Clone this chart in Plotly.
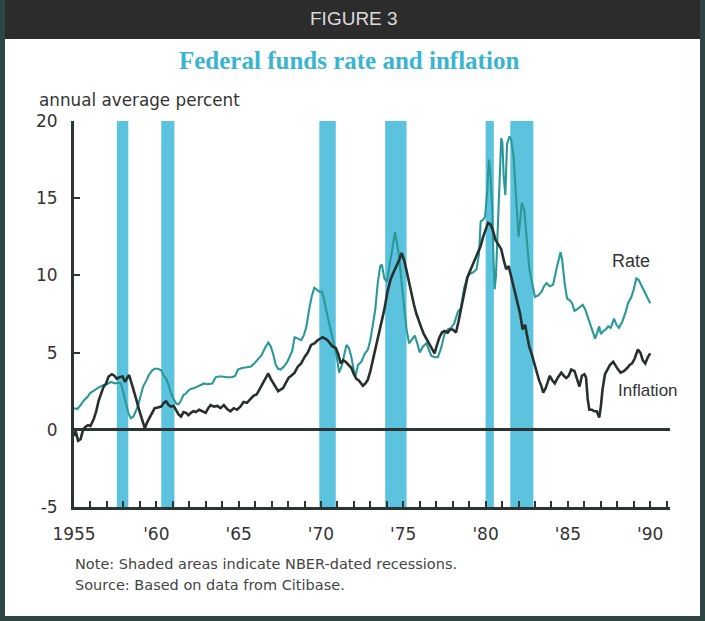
import plotly.graph_objects as go

# ---------------- data ----------------
rate_years = [1955.0,1955.2,1955.4,1955.6,1955.8,1956.0,1956.3,1956.5,1956.8,1957.0,1957.25,1957.5,1957.7,1957.85,
 1958.0,1958.15,1958.3,1958.45,1958.6,1958.75,1958.9,1959.05,1959.2,1959.4,1959.55,1959.75,1959.9,1960.1,1960.3,
 1960.45,1960.6,1960.75,1960.9,1961.05,1961.2,1961.35,1961.5,1961.65,1961.8,1961.95,1962.1,1962.3,1962.5,1962.7,
 1962.9,1963.1,1963.4,1963.6,1963.8,1964.0,1964.3,1964.6,1964.8,1964.95,1965.2,1965.5,1965.75,1966.0,1966.2,1966.4,
 1966.6,1966.8,1966.95,1967.1,1967.25,1967.4,1967.55,1967.75,1967.95,1968.1,1968.25,1968.4,1968.6,1968.8,1968.95,
 1969.1,1969.3,1969.45,1969.6,1969.75,1969.9,1970.05,1970.2,1970.35,1970.5,1970.65,1970.8,1970.95,1971.1,1971.25,
 1971.4,1971.55,1971.7,1971.85,1972.0,1972.1,1972.25,1972.45,1972.65,1972.85,1973.0,1973.15,1973.3,1973.45,1973.6,
 1973.7,1973.85,1974.0,1974.15,1974.3,1974.5,1974.6,1974.75,1974.9,1975.05,1975.2,1975.35,1975.5,1975.7,1975.85,
 1976.0,1976.2,1976.4,1976.55,1976.7,1976.9,1977.1,1977.3,1977.5,1977.7,1977.9,1978.1,1978.3,1978.5,1978.7,1978.9,
 1979.05,1979.25,1979.45,1979.6,1979.7,1979.85,1979.97,1980.1,1980.2,1980.3,1980.4,1980.48,1980.55,1980.63,1980.7,
 1980.78,1980.85,1980.95,1981.02,1981.1,1981.2,1981.3,1981.45,1981.55,1981.7,1981.8,1981.9,1982.0,1982.1,1982.2,
 1982.35,1982.45,1982.55,1982.65,1982.75,1982.9,1983.0,1983.2,1983.4,1983.55,1983.7,1983.9,1984.1,1984.3,1984.45,
 1984.55,1984.65,1984.8,1984.95,1985.1,1985.25,1985.4,1985.55,1985.75,1985.9,1986.05,1986.2,1986.35,1986.5,1986.65,
 1986.75,1986.9,1987.0,1987.15,1987.3,1987.45,1987.6,1987.8,1987.95,1988.1,1988.3,1988.5,1988.65,1988.85,1989.0,
 1989.15,1989.3,1989.45,1989.6,1989.8,1990.0]
rate_values = [1.4,1.35,1.6,1.9,2.1,2.4,2.6,2.75,2.9,2.95,3.1,3.0,3.05,3.0,
 2.4,1.7,1.1,0.75,0.85,1.2,1.6,2.2,2.8,3.2,3.55,3.85,3.95,3.95,3.85,
 3.5,3.3,2.9,2.35,2.0,1.7,1.65,1.9,2.25,2.35,2.55,2.65,2.7,2.8,2.85,
 3.0,2.95,3.0,3.4,3.45,3.45,3.4,3.4,3.5,3.9,4.0,4.05,4.1,4.35,4.6,4.85,
 5.3,5.65,5.4,4.9,4.2,3.95,3.9,4.1,4.4,4.7,5.1,6.0,5.9,5.8,6.1,
 6.6,7.9,8.7,9.2,9.1,8.95,8.95,8.4,7.6,6.9,6.3,5.5,4.8,3.7,4.1,
 4.8,5.5,5.3,4.7,3.8,3.5,4.2,4.4,4.9,5.2,5.8,6.7,7.8,9.5,10.6,
 10.7,9.8,9.6,10.5,11.5,12.8,12.2,11.2,9.5,8.0,6.5,5.6,5.8,6.1,5.6,
 5.0,5.4,5.6,5.2,4.8,4.7,4.7,5.3,6.2,6.5,6.6,6.9,7.6,7.9,9.2,9.9,
 10.1,10.2,10.4,11.4,13.5,13.6,13.8,15.5,17.5,16.5,14.4,11.0,9.1,10.0,12.1,
 14.0,16.4,18.9,18.6,16.4,15.2,18.5,19.0,18.8,17.7,15.5,14.2,12.5,13.6,14.7,
 14.2,13.0,11.7,10.5,9.9,9.0,8.6,8.7,8.95,9.3,9.5,9.3,9.4,10.4,11.0,
 11.5,11.0,9.5,8.5,8.4,8.2,7.7,7.8,8.0,8.1,7.8,7.3,6.9,6.4,5.9,
 6.2,6.7,6.2,6.4,6.5,6.7,6.6,7.2,6.8,6.6,7.0,7.6,8.2,8.6,9.1,
 9.8,9.7,9.4,9.05,8.6,8.2]

infl_years = [1955.0,1955.1,1955.25,1955.4,1955.55,1955.7,1955.85,1956.0,1956.2,1956.35,1956.5,1956.65,1956.8,1956.95,
 1957.1,1957.3,1957.45,1957.6,1957.75,1957.95,1958.1,1958.25,1958.35,1958.5,1958.65,1958.8,1958.95,1959.1,1959.3,
 1959.45,1959.6,1959.75,1959.9,1960.1,1960.3,1960.45,1960.6,1960.75,1960.9,1961.05,1961.2,1961.35,1961.5,1961.65,
 1961.8,1961.95,1962.1,1962.25,1962.4,1962.6,1962.8,1963.0,1963.15,1963.3,1963.5,1963.7,1963.9,1964.1,1964.3,1964.5,
 1964.7,1964.9,1965.1,1965.3,1965.5,1965.7,1965.9,1966.1,1966.3,1966.5,1966.7,1966.8,1966.95,1967.1,1967.25,1967.4,
 1967.55,1967.7,1967.85,1968.05,1968.2,1968.4,1968.6,1968.8,1969.0,1969.2,1969.4,1969.6,1969.8,1970.0,1970.1,
 1970.25,1970.4,1970.55,1970.7,1970.9,1971.05,1971.2,1971.35,1971.5,1971.7,1971.85,1972.0,1972.15,1972.3,1972.45,
 1972.55,1972.7,1972.85,1973.0,1973.15,1973.35,1973.5,1973.65,1973.85,1974.05,1974.25,1974.45,1974.6,1974.75,1974.9,
 1975.05,1975.2,1975.35,1975.5,1975.65,1975.8,1975.95,1976.1,1976.25,1976.4,1976.6,1976.75,1976.9,1977.05,1977.2,
 1977.35,1977.5,1977.7,1977.85,1978.0,1978.2,1978.35,1978.5,1978.7,1978.9,1979.1,1979.3,1979.5,1979.7,1979.85,
 1980.0,1980.15,1980.3,1980.45,1980.6,1980.75,1980.95,1981.1,1981.25,1981.4,1981.55,1981.7,1981.85,1982.0,1982.1,
 1982.25,1982.4,1982.5,1982.65,1982.8,1982.95,1983.1,1983.25,1983.4,1983.5,1983.65,1983.8,1983.9,1984.05,1984.2,
 1984.4,1984.6,1984.75,1984.9,1985.05,1985.2,1985.4,1985.55,1985.7,1985.85,1986.0,1986.1,1986.2,1986.3,1986.45,
 1986.6,1986.75,1986.9,1987.0,1987.1,1987.25,1987.4,1987.55,1987.75,1987.9,1988.05,1988.2,1988.4,1988.6,1988.75,
 1988.9,1989.05,1989.25,1989.4,1989.55,1989.7,1989.85,1990.0]
infl_values = [-0.4,-0.1,-0.7,-0.6,0.0,0.2,0.3,0.25,0.7,1.2,1.9,2.3,2.8,3.0,
 3.45,3.6,3.5,3.3,3.4,3.45,3.1,3.4,3.55,3.0,2.5,1.9,1.3,0.8,0.1,
 0.5,0.8,1.2,1.4,1.45,1.5,1.75,1.85,1.6,1.5,1.55,1.3,1.0,0.85,1.15,
 1.1,0.95,1.1,1.2,1.15,1.3,1.2,1.1,1.4,1.6,1.5,1.55,1.4,1.6,1.35,1.2,
 1.4,1.3,1.5,1.8,1.75,2.0,2.2,2.3,2.7,3.0,3.5,3.65,3.3,3.0,2.7,2.5,
 2.6,2.7,3.0,3.4,3.5,3.7,4.1,4.3,4.7,5.0,5.5,5.6,5.8,5.9,6.0,
 5.9,5.8,5.6,5.4,5.3,4.9,4.3,4.5,4.4,4.2,4.0,3.6,3.3,3.2,3.0,
 2.85,3.0,3.25,3.8,4.5,5.4,6.1,6.7,7.8,9.0,9.8,10.3,10.6,11.0,11.45,
 11.0,10.3,9.5,8.8,8.1,7.5,7.0,6.6,6.2,5.9,5.6,5.3,4.95,5.5,6.0,
 6.3,6.4,6.3,6.5,6.5,6.3,7.0,7.8,8.8,9.9,10.4,10.9,11.3,11.9,12.5,
 13.0,13.4,13.3,12.9,12.3,12.0,11.7,11.0,10.4,10.6,9.9,9.3,8.6,8.0,7.5,
 6.5,6.8,6.2,5.4,4.9,4.3,3.7,3.2,2.8,2.4,2.7,3.2,3.5,3.2,3.0,
 3.4,3.7,3.5,3.35,3.5,3.9,3.8,3.3,2.8,3.5,3.6,3.4,2.0,1.3,1.3,
 1.2,1.2,0.8,1.5,2.6,3.6,3.9,4.2,4.4,4.1,3.9,3.7,3.8,4.0,4.2,
 4.3,4.6,5.2,5.0,4.5,4.3,4.7,4.95]

rec_start = [1957.6, 1960.3, 1969.9, 1973.9, 1980.0, 1981.5]
rec_end = [1958.3, 1961.1, 1970.9, 1975.2, 1980.5, 1982.9]

x_tickvals = [1955, 1960, 1965, 1970, 1975, 1980, 1985, 1990]
x_ticktext = ["1955", "'60", "'65", "'70", "'75", "'80", "'85", "'90"]
y_tickvals = [-5, 0, 5, 10, 15, 20]
y_ticktext = ["-5", "0", "5", "10", "15", "20"]

# ---------------- layout helpers ----------------
W, H = 705, 621
L, R, T, B = 74, 35, 121, 114
PW, PH = W - L - R, H - T - B

def px(x):
    return (x - L) / PW

def py(y):
    return (H - B - y) / PH

DARK = "#2b3533"
RATE_C = "#2a9898"
INFL_C = "#28302e"
BAR_C = "#5cc3de"
TXT = "#333333"

fig = go.Figure()
fig.add_trace(go.Scatter(x=rate_years, y=rate_values, mode="lines",
                         line=dict(color=RATE_C, width=2.1), showlegend=False, hoverinfo="skip"))
fig.add_trace(go.Scatter(x=infl_years, y=infl_values, mode="lines",
                         line=dict(color=INFL_C, width=2.6), showlegend=False, hoverinfo="skip"))

shapes = []
for s, e in zip(rec_start, rec_end):
    shapes.append(dict(type="rect", xref="x", yref="y", x0=s, x1=e, y0=-5, y1=20,
                       fillcolor=BAR_C, line=dict(width=0), layer="below"))
# header band and frame
shapes.append(dict(type="rect", xref="paper", yref="paper", x0=px(0), x1=px(W), y0=py(0), y1=py(39),
                   fillcolor="#2c2c2c", line=dict(width=0), layer="above"))
FRAME = "#2f4543"
for (a, b, c, d) in [(0, 5, 0, H), (700, W, 0, H), (0, W, 616, H)]:
    shapes.append(dict(type="rect", xref="paper", yref="paper", x0=px(a), x1=px(b), y0=py(c), y1=py(d),
                       fillcolor=FRAME, line=dict(width=0), layer="above"))

annotations = [
    dict(text="FIGURE 3", x=px(354), y=py(19), xref="paper", yref="paper", showarrow=False,
         xanchor="center", yanchor="middle", font=dict(family="Liberation Sans", size=19, color="#dcdcdc")),
    dict(text="<b>Federal funds rate and inflation</b>", x=px(349), y=py(60), xref="paper", yref="paper",
         showarrow=False, xanchor="center", yanchor="middle",
         font=dict(family="Liberation Serif", size=25, color="#3ab4cf")),
    dict(text="annual average percent", x=px(37), y=py(100), xref="paper", yref="paper", showarrow=False,
         xanchor="left", yanchor="middle", font=dict(family="DejaVu Sans", size=16.8, color=TXT)),
    dict(text="Rate", x=px(631), y=py(261), xref="paper", yref="paper", showarrow=False,
         xanchor="center", yanchor="middle", font=dict(family="Liberation Sans", size=18, color=TXT)),
    dict(text="Inflation", x=px(648), y=py(390), xref="paper", yref="paper", showarrow=False,
         xanchor="center", yanchor="middle", font=dict(family="Liberation Sans", size=17, color=TXT)),
    dict(text="Note: Shaded areas indicate NBER-dated recessions.", x=px(73), y=py(564), xref="paper",
         yref="paper", showarrow=False, xanchor="left", yanchor="middle",
         font=dict(family="DejaVu Sans", size=14.5, color="#444444")),
    dict(text="Source: Based on data from Citibase.", x=px(73), y=py(585), xref="paper",
         yref="paper", showarrow=False, xanchor="left", yanchor="middle",
         font=dict(family="DejaVu Sans", size=14.5, color="#444444")),
]

fig.update_layout(
    width=W, height=H, autosize=False,
    margin=dict(l=L, r=R, t=T, b=B, pad=0),
    paper_bgcolor="white", plot_bgcolor="white",
    shapes=shapes, annotations=annotations, showlegend=False,
    hovermode=False,
    xaxis=dict(range=[1955, 1991.2], showgrid=False, zeroline=False,
               showline=True, linewidth=3, linecolor=DARK,
               tickmode="array", tickvals=x_tickvals, ticktext=x_ticktext,
               ticks="inside", ticklen=6, tickwidth=2, tickcolor=DARK,
               minor=dict(tickmode="array", tickvals=list(range(1955, 1992)), ticks="inside",
                          ticklen=6, tickwidth=2, tickcolor=DARK),
               tickfont=dict(family="DejaVu Sans", size=17, color=TXT), ticklabelstandoff=10),
    yaxis=dict(range=[-5, 20], showgrid=False, zeroline=True, zerolinecolor=DARK, zerolinewidth=2.5,
               showline=True, linewidth=3, linecolor=DARK,
               tickmode="array", tickvals=y_tickvals, ticktext=y_ticktext,
               ticks="inside", ticklen=6, tickwidth=2, tickcolor=DARK,
               tickfont=dict(family="DejaVu Sans", size=17, color=TXT), ticklabelstandoff=10),
)

fig.write_html("out.html", config={"displayModeBar": False},
               post_script="document.body.style.margin='0px';document.body.style.overflow='hidden';")
